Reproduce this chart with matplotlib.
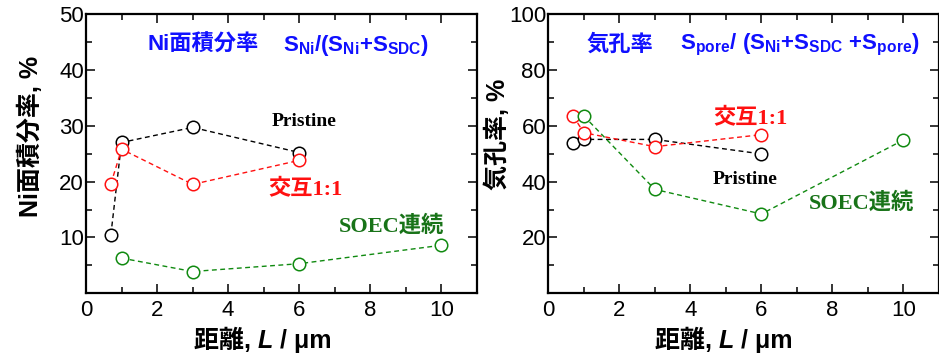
import matplotlib
matplotlib.use('Agg')
import matplotlib.pyplot as plt
from matplotlib.ticker import MultipleLocator

# ── data
x_pristine = [0.7, 1.0, 3.0, 6.0]
x_alt = [0.7, 1.0, 3.0, 6.0]
x_soec = [1.0, 3.0, 6.0, 10.0]

ni_pristine = [10.5, 27.0, 29.7, 25.2]
ni_alt = [19.6, 25.8, 19.5, 23.8]
ni_soec = [6.3, 3.9, 5.3, 8.6]

pore_pristine = [53.9, 55.1, 55.1, 49.9]
pore_alt = [63.5, 57.5, 52.5, 56.8]
pore_soec = [63.5, 37.2, 28.4, 54.9]

SANS = ['Liberation Sans', 'Noto Sans CJK JP']
SERIF = ['Liberation Serif', 'Noto Sans CJK JP']

plt.rcParams['mathtext.fontset'] = 'custom'
plt.rcParams['mathtext.bf'] = 'Liberation Sans:bold'
plt.rcParams['mathtext.rm'] = 'Liberation Sans:bold'
plt.rcParams['mathtext.it'] = 'Liberation Sans:bold:italic'

BLUE = '#1010ff'
RED = '#ff1010'
GREEN = '#108a10'
GREEN_TXT = '#187318'

fig = plt.figure(figsize=(9.39, 3.54), dpi=100)
ax1 = fig.add_axes([86/939, 1 - 293.3/354, 391/939, 279.3/354])
ax2 = fig.add_axes([548.3/939, 1 - 293.3/354, 390.7/939, 279.3/354])


def series(ax, x, y, c):
    ax.plot(x, y, ls=(0, (3.5, 2.5)), lw=1.0, color=c, marker='o', ms=9,
            mfc='white', mec=c, mew=1.1, zorder=3)


def xlabel(ax, x0):
    # 距離, L / μm  with italic L, built from chained pieces
    kw = dict(family=SANS, fontsize=18, fontweight='bold', annotation_clip=False)
    t1 = ax.annotate('距離, ', xy=(x0, -0.124), xycoords='axes fraction',
                     va='top', ha='left', **kw)
    t2 = ax.annotate('L', xy=(1, 0), xycoords=t1, va='bottom', ha='left',
                     style='italic', **kw)
    ax.annotate(' / μm', xy=(1, 0), xycoords=t2, va='bottom', ha='left', **kw)


def style(ax, ymax, ymaj, ymin_step):
    ax.set_xlim(0, 11)
    ax.set_ylim(0, ymax)
    ax.set_xticks([0, 2, 4, 6, 8, 10])
    ax.xaxis.set_minor_locator(MultipleLocator(1))
    ax.set_yticks(ymaj)
    ax.yaxis.set_minor_locator(MultipleLocator(ymin_step))
    ax.tick_params(which='both', direction='in', top=True, right=True, width=1.1)
    ax.tick_params(which='major', length=6.5)
    ax.tick_params(which='minor', length=4)
    ax.tick_params(axis='x', pad=5, labelsize=16)
    ax.tick_params(axis='y', pad=1.5, labelsize=16)
    for lab in ax.get_xticklabels() + ax.get_yticklabels():
        lab.set_family(SANS)
    for s in ax.spines.values():
        s.set_linewidth(1.6)


# ── left panel: Ni area fraction
series(ax1, x_pristine, ni_pristine, 'black')
series(ax1, x_alt, ni_alt, RED)
series(ax1, x_soec, ni_soec, GREEN)
style(ax1, 50, [10, 20, 30, 40, 50], 5)
ax1.set_ylabel('Ni面積分率, %', family=SANS, fontsize=18, fontweight='bold')
ax1.yaxis.set_label_coords(-0.11, 0.56)
xlabel(ax1, 0.276)

ax1.text(1.74, 44.4, 'Ni面積分率', family=SANS, fontsize=16, fontweight='bold',
         color=BLUE, va='center', ha='left')
ax1.text(5.55, 44.4, r'$\mathbf{S_{Ni}/(S_{Ni}{+}S_{SDC})}$', fontsize=16,
         color=BLUE, va='center', ha='left')
ax1.text(6.14, 30.8, 'Pristine', family=SERIF, fontsize=14, fontweight='bold',
         color='black', va='center', ha='center')
ax1.text(6.17, 18.7, '交互1:1', family=SERIF, fontsize=16, fontweight='bold',
         color=RED, va='center', ha='center')
ax1.text(8.6, 12.0, 'SOEC連続', family=SERIF, fontsize=16, fontweight='bold',
         color=GREEN_TXT, va='center', ha='center')

# ── right panel: porosity
series(ax2, x_pristine, pore_pristine, 'black')
series(ax2, x_alt, pore_alt, RED)
series(ax2, x_soec, pore_soec, GREEN)
style(ax2, 100, [20, 40, 60, 80, 100], 10)
ax2.set_ylabel('気孔率, %', family=SANS, fontsize=18, fontweight='bold')
ax2.yaxis.set_label_coords(-0.098, 0.57)
xlabel(ax2, 0.273)

ax2.text(1.08, 88.9, '気孔率', family=SANS, fontsize=16, fontweight='bold',
         color=BLUE, va='center', ha='left')
ax2.text(3.7, 88.9, r'$\mathbf{S_{pore}/\ (S_{Ni}{+}S_{SDC}\ {+}S_{pore})}$',
         fontsize=16, color=BLUE, va='center', ha='left')
ax2.text(5.68, 62.8, '交互1:1', family=SERIF, fontsize=16, fontweight='bold',
         color=RED, va='center', ha='center')
ax2.text(5.54, 40.9, 'Pristine', family=SERIF, fontsize=14, fontweight='bold',
         color='black', va='center', ha='center')
ax2.text(8.81, 32.3, 'SOEC連続', family=SERIF, fontsize=16, fontweight='bold',
         color=GREEN_TXT, va='center', ha='center')

fig.savefig('out.png', dpi=100)
